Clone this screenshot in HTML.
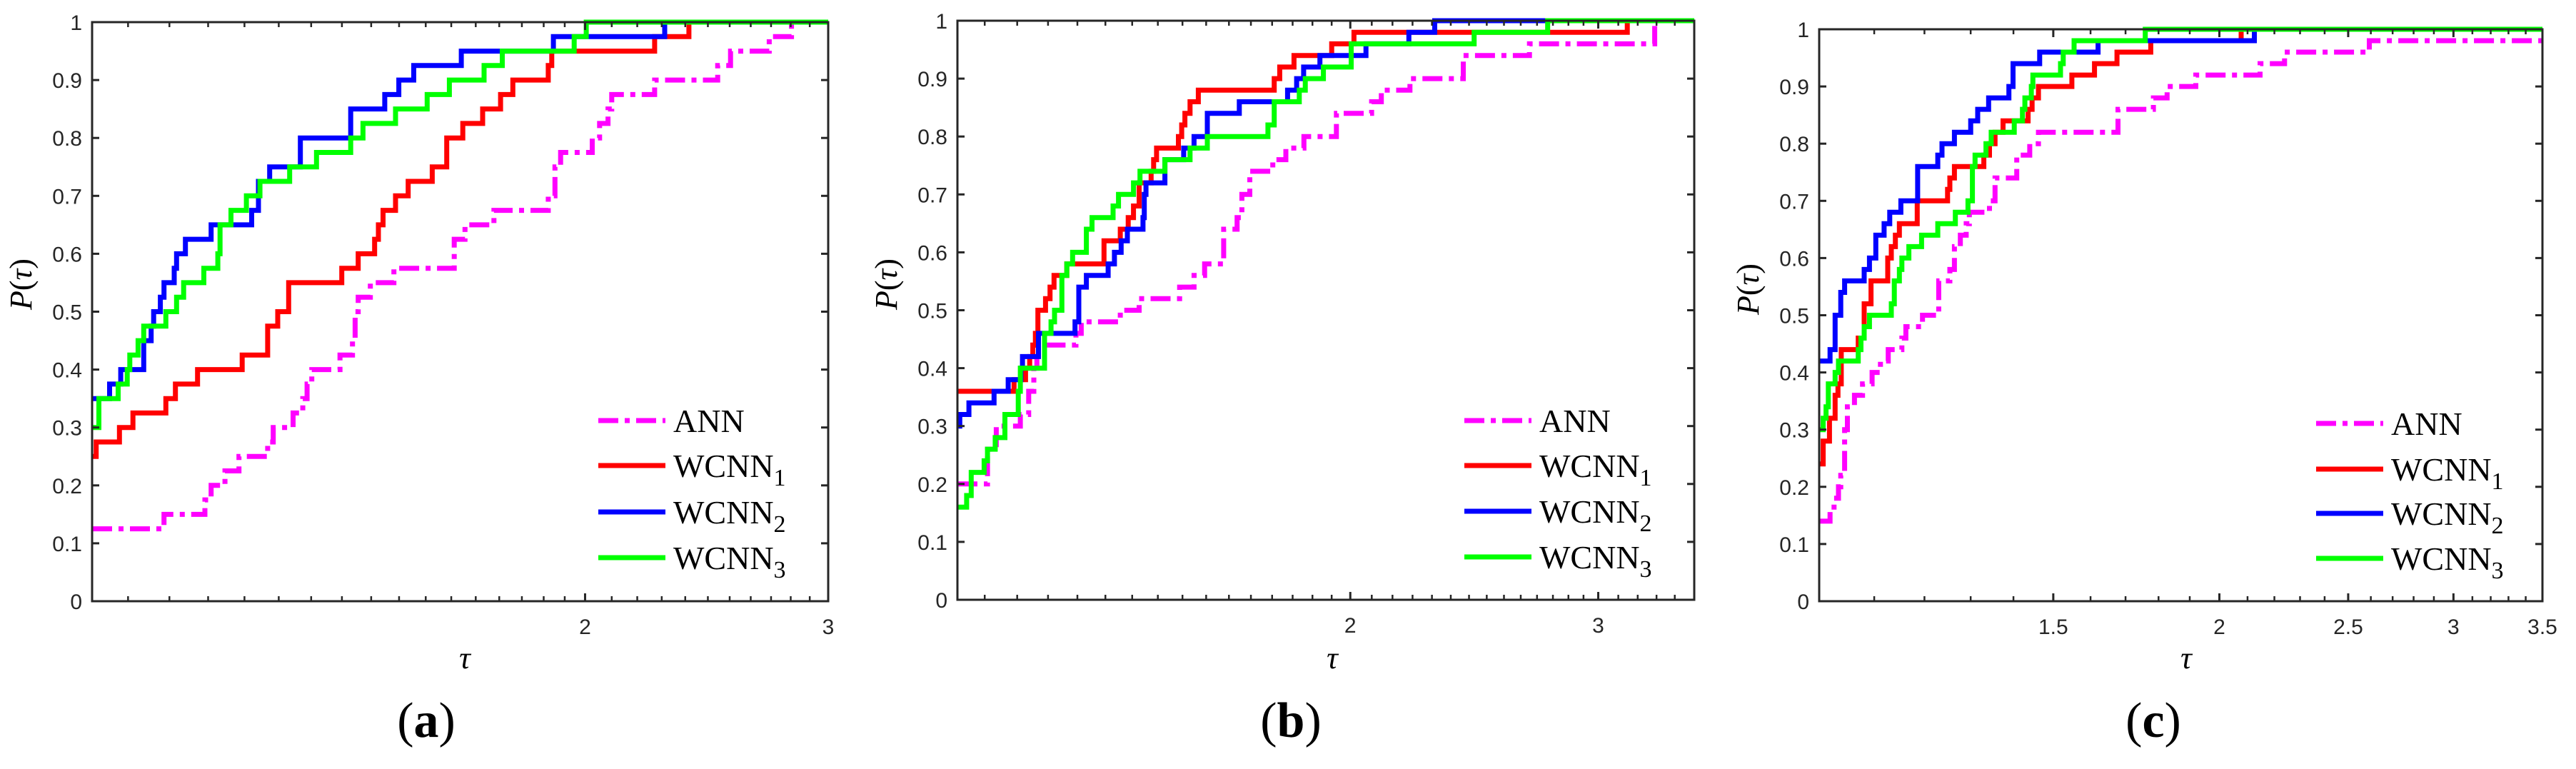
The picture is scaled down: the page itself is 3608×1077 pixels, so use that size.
<!DOCTYPE html>
<html><head><meta charset="utf-8"><style>
html,body{margin:0;padding:0;background:#fff}
svg{display:block}
.tk{font-family:"Liberation Sans",sans-serif;font-size:30px;fill:#262626}
.lg{font-family:"Liberation Serif",serif;font-size:46px;fill:#000}
.ax{font-family:"Liberation Serif",serif;font-style:italic;font-size:44px;fill:#000}
.pl{font-family:"Liberation Serif",serif;font-size:70px;fill:#000}
</style></head><body>
<svg id="fig" xmlns="http://www.w3.org/2000/svg" width="3608" height="1077" viewBox="0 0 3608 1077"></svg>
<script>
// ---------- Data (tau, P) step points ----------
const aAnnT=[0.879,0.991,1.061,1.072,1.097,1.123,1.178,1.189,1.229,1.249,1.258,1.268,1.329,1.357,1.363,1.370,1.398,1.454,1.608,1.637,1.718,1.881,1.902,1.920,2.024,2.049,2.078,2.091,2.246,2.495,2.549,2.719,2.822];
const aAnnP=[0.125,0.15,0.175,0.2,0.225,0.25,0.275,0.3,0.325,0.35,0.375,0.4,0.425,0.45,0.5,0.525,0.55,0.575,0.625,0.65,0.675,0.7,0.75,0.775,0.8,0.825,0.85,0.875,0.9,0.925,0.95,0.975,1.0];
const aW1T=[0.879,0.885,0.920,0.941,0.994,1.010,1.048,1.129,1.178,1.198,1.220,1.333,1.370,1.408,1.417,1.428,1.458,1.489,1.550,1.588,1.631,1.686,1.737,1.773,1.881,1.892,2.246,2.378];
const aW1P=[0.25,0.275,0.3,0.325,0.35,0.375,0.4,0.425,0.475,0.5,0.55,0.575,0.6,0.625,0.65,0.675,0.7,0.725,0.75,0.8,0.825,0.85,0.875,0.9,0.925,0.95,0.975,1.0];
const aW2T=[0.879,0.905,0.922,0.958,0.970,0.974,0.985,0.991,1.008,1.012,1.027,1.072,1.147,1.160,1.182,1.244,1.353,1.432,1.466,1.503,1.627,1.897,2.284];
const aW2P=[0.35,0.375,0.4,0.45,0.475,0.5,0.525,0.55,0.575,0.6,0.625,0.65,0.675,0.725,0.75,0.8,0.85,0.875,0.9,0.925,0.95,0.975,1.0];
const aW3T=[0.879,0.889,0.918,0.932,0.936,0.949,0.958,0.994,1.012,1.024,1.059,1.084,1.088,1.108,1.137,1.163,1.222,1.278,1.353,1.381,1.458,1.537,1.595,1.690,1.742,1.964,2.004];
const aW3P=[0.3,0.35,0.375,0.4,0.425,0.45,0.475,0.5,0.525,0.55,0.575,0.6,0.65,0.675,0.7,0.725,0.75,0.775,0.8,0.825,0.85,0.875,0.9,0.925,0.95,0.975,1.0];

const bAnnT=[1.052,1.105,1.121,1.166,1.182,1.192,1.198,1.277,1.288,1.373,1.416,1.513,1.549,1.576,1.626,1.662,1.675,1.697,1.762,1.800,1.854,1.955,2.071,2.104,2.205,2.406,2.681,3.29];
const bAnnP=[0.2,0.26,0.3,0.32,0.36,0.4,0.44,0.46,0.48,0.5,0.52,0.54,0.56,0.58,0.64,0.66,0.7,0.74,0.76,0.78,0.8,0.84,0.86,0.88,0.9,0.94,0.96,1.0];
const bW1T=[1.052,1.154,1.176,1.184,1.190,1.195,1.200,1.215,1.224,1.232,1.258,1.337,1.373,1.391,1.403,1.416,1.444,1.450,1.457,1.510,1.518,1.526,1.539,1.560,1.766,1.782,1.824,1.940,2.012,3.146];
const bW1P=[0.36,0.38,0.4,0.42,0.44,0.46,0.5,0.52,0.54,0.56,0.58,0.62,0.64,0.66,0.68,0.72,0.74,0.76,0.78,0.8,0.82,0.84,0.86,0.88,0.9,0.92,0.94,0.96,0.98,1.0];
const bW2T=[1.052,1.056,1.072,1.117,1.143,1.167,1.170,1.201,1.275,1.283,1.299,1.346,1.360,1.375,1.389,1.425,1.428,1.432,1.477,1.523,1.549,1.583,1.668,1.805,1.832,1.853,1.903,2.052,2.201,2.296];
const bW2P=[0.3,0.32,0.34,0.36,0.38,0.4,0.42,0.46,0.48,0.54,0.56,0.58,0.6,0.62,0.64,0.66,0.7,0.72,0.76,0.78,0.8,0.84,0.86,0.88,0.9,0.92,0.94,0.96,0.98,1.0];
const bW3T=[1.052,1.068,1.076,1.099,1.105,1.119,1.137,1.162,1.166,1.213,1.226,1.233,1.248,1.258,1.270,1.299,1.311,1.357,1.369,1.403,1.418,1.477,1.539,1.583,1.748,1.766,1.840,1.858,1.914,2.003,2.449,2.762];
const bW3P=[0.16,0.18,0.22,0.24,0.26,0.28,0.32,0.36,0.4,0.46,0.48,0.5,0.56,0.58,0.6,0.64,0.66,0.68,0.7,0.72,0.74,0.76,0.78,0.8,0.82,0.86,0.88,0.9,0.92,0.96,0.98,1.0];

const cAnnT=[1.0,1.019,1.026,1.034,1.038,1.045,1.050,1.063,1.078,1.096,1.112,1.127,1.154,1.162,1.196,1.230,1.254,1.264,1.277,1.290,1.297,1.343,1.356,1.408,1.440,1.462,1.678,1.784,1.827,1.920,2.146,2.239,2.593];
const cAnnP=[0.14,0.16,0.18,0.2,0.22,0.3,0.34,0.36,0.38,0.4,0.42,0.44,0.46,0.48,0.5,0.56,0.58,0.62,0.64,0.66,0.68,0.7,0.74,0.78,0.8,0.82,0.86,0.88,0.9,0.92,0.94,0.96,0.98];
const cW1T=[1.0,1.007,1.018,1.028,1.033,1.039,1.070,1.081,1.094,1.126,1.133,1.141,1.149,1.185,1.249,1.254,1.264,1.330,1.343,1.356,1.375,1.436,1.446,1.462,1.549,1.611,1.675,1.776,2.077];
const cW1P=[0.24,0.28,0.32,0.36,0.38,0.44,0.46,0.52,0.56,0.6,0.62,0.64,0.66,0.7,0.72,0.74,0.76,0.78,0.8,0.82,0.84,0.86,0.88,0.9,0.92,0.94,0.96,0.98,1.0];
const cW2T=[1.0,1.019,1.028,1.038,1.045,1.081,1.091,1.103,1.119,1.130,1.152,1.186,1.228,1.237,1.264,1.300,1.316,1.341,1.389,1.399,1.465,1.621,2.125];
const cW2P=[0.42,0.44,0.5,0.54,0.56,0.58,0.6,0.64,0.66,0.68,0.7,0.76,0.78,0.8,0.82,0.84,0.86,0.88,0.9,0.94,0.96,0.98,1.0];
const cW3T=[1.0,1.007,1.012,1.016,1.028,1.034,1.070,1.075,1.081,1.091,1.133,1.139,1.149,1.154,1.168,1.194,1.228,1.266,1.294,1.304,1.310,1.335,1.347,1.402,1.422,1.428,1.444,1.448,1.519,1.526,1.555,1.759];
const cW3P=[0.3,0.32,0.34,0.38,0.4,0.42,0.44,0.46,0.48,0.5,0.52,0.56,0.58,0.6,0.62,0.64,0.66,0.68,0.7,0.76,0.78,0.8,0.82,0.84,0.86,0.88,0.9,0.92,0.94,0.96,0.98,1.0];

const yTicks=[0,0.1,0.2,0.3,0.4,0.5,0.6,0.7,0.8,0.9,1];
const yTickLabels=["0","0.1","0.2","0.3","0.4","0.5","0.6","0.7","0.8","0.9","1"];
const aXTicks=[2,3], aXTickLabels=["2","3"];
const bXTicks=[2,3], bXTickLabels=["2","3"];
const cXTicks=[1.5,2,2.5,3,3.5], cXTickLabels=["1.5","2","2.5","3","3.5"];
const legendNames=["ANN","WCNN","WCNN","WCNN"];
const legendSubs=["","1","2","3"];

// ---------- Drawing ----------
const NS="http://www.w3.org/2000/svg";
const svg=document.getElementById('fig');
function mk(tag,attrs,parent){const e=document.createElementNS(NS,tag);for(const k in attrs)e.setAttribute(k,attrs[k]);(parent||svg).appendChild(e);return e;}
const colors=["#ff00ff","#ff0000","#0000ff","#00ff00"];
const seriesNames=["ann","wcnn1","wcnn2","wcnn3"];

function minorList(start,end,step){const r=[];for(let t=start;t<end-1e-9;t+=step)r.push(t);return r;}

function panel(id,cfg,series,xt,xtl,minors){
  const g=mk('g',{});
  
  
  const L=Math.log;
  const x=t=>cfg.x0+(L(t)-L(cfg.d0))/(L(cfg.d1)-L(cfg.d0))*(cfg.x1-cfg.x0);
  const y=p=>cfg.y0-p*(cfg.y0-cfg.y1);
  // series
  series.forEach((s,i)=>{
    const T=s[0],P=s[1];
    let d='M'+x(T[0]).toFixed(1)+','+y(P[0]).toFixed(1);
    for(let k=1;k<T.length;k++){d+=' H'+x(T[k]).toFixed(1)+' V'+y(P[k]).toFixed(1);}
    d+=' H'+cfg.x1;
    const pa=mk('path',{d:d,fill:'none',stroke:colors[i],'stroke-width':7,'stroke-linejoin':'miter','stroke-linecap':'butt'},g);
    if(i===0)pa.setAttribute('stroke-dasharray','28 9 7 9');
    
    
  });
  // box
  const box=mk('rect',{x:cfg.x0,y:cfg.y1,width:cfg.x1-cfg.x0,height:cfg.y0-cfg.y1,fill:'none',stroke:'#262626','stroke-width':3},g);
  
  
  // y ticks
  yTicks.forEach((v,i)=>{
    const yy=y(v);
    mk('line',{x1:cfg.x0,x2:cfg.x0+10,y1:yy,y2:yy,stroke:'#262626','stroke-width':3},g);
    mk('line',{x1:cfg.x1,x2:cfg.x1-10,y1:yy,y2:yy,stroke:'#262626','stroke-width':3},g);
    const t=mk('text',{x:cfg.x0-14,y:yy+11,'text-anchor':'end',class:'tk'},g);
    t.textContent=yTickLabels[i];
    
    
  });
  minors.forEach(v=>{
    const xx=x(v);
    mk('line',{x1:xx,x2:xx,y1:cfg.y0,y2:cfg.y0-7,stroke:'#262626','stroke-width':2.5},g);
    mk('line',{x1:xx,x2:xx,y1:cfg.y1,y2:cfg.y1+7,stroke:'#262626','stroke-width':2.5},g);
  });
  xt.forEach((v,i)=>{
    const xx=x(v);
    mk('line',{x1:xx,x2:xx,y1:cfg.y0,y2:cfg.y0-11,stroke:'#262626','stroke-width':3},g);
    mk('line',{x1:xx,x2:xx,y1:cfg.y1,y2:cfg.y1+11,stroke:'#262626','stroke-width':3},g);
    const t=mk('text',{x:xx,y:cfg.y0+46,'text-anchor':'middle',class:'tk'},g);
    t.textContent=xtl[i];
    
    
  });
  // axis titles
  const yl=mk('text',{x:0,y:0,'text-anchor':'middle',class:'ax',transform:'translate('+(cfg.ylx+14)+','+cfg.yly+') rotate(-90)'},g);
  yl.innerHTML='P<tspan font-style="normal">(</tspan>τ<tspan font-style="normal">)</tspan>';
  
  
  const xl=mk('text',{x:cfg.xlx,y:936,'text-anchor':'middle',class:'ax'},g);
  xl.textContent='τ';
  
  
  const pl=mk('text',{x:cfg.plx,y:1032,'text-anchor':'middle',class:'pl'},g);
  pl.innerHTML='(<tspan font-weight="bold">'+id+'</tspan>)';
  
  
  // legend
  cfg.lgy.forEach((ly,i)=>{
    const ln=mk('line',{x1:cfg.lgx,x2:cfg.lgx+94,y1:ly,y2:ly,stroke:colors[i],'stroke-width':7},g);
    if(i===0)ln.setAttribute('stroke-dasharray','28 9 7 9');
    
    
    const t=mk('text',{x:cfg.lgx+105,y:ly+16,class:'lg'},g);
    t.innerHTML=legendNames[i]+(legendSubs[i]?'<tspan dy="12" font-size="34">'+legendSubs[i]+'</tspan>':'');
    
    
  });
}

panel('a',{d0:0.879,d1:3,x0:129,x1:1160,y0:842,y1:31,ylx:30,yly:398,xlx:651,plx:597,lgx:838,lgy:[589,652,717,781]},
  [[aAnnT,aAnnP],[aW1T,aW1P],[aW2T,aW2P],[aW3T,aW3P]],aXTicks,aXTickLabels,
  minorList(0.9333,2,1/15).concat(minorList(2+1/11,3,1/11)));
panel('b',{d0:1.052,d1:3.51,x0:1341,x1:2373,y0:840,y1:29,ylx:1242,yly:398,xlx:1866,plx:1808,lgx:2051,lgy:[589,652,716,780]},
  [[bAnnT,bAnnP],[bW1T,bW1P],[bW2T,bW2P],[bW3T,bW3P]],bXTicks,bXTickLabels,
  minorList(1.1,2,0.06).concat(minorList(2+1/14,3,1/14)).concat(minorList(3.1,3.5,0.1)));
panel('c',{d0:1,d1:3.5,x0:2548,x1:3561,y0:842,y1:41,ylx:2449,yly:405,xlx:3062,plx:3016,lgx:3244,lgy:[593,657,719,782]},
  [[cAnnT,cAnnP],[cW1T,cW1P],[cW2T,cW2P],[cW3T,cW3P]],cXTicks,cXTickLabels,
  minorList(1.1,3.45,0.1));
</script>
</body></html>
